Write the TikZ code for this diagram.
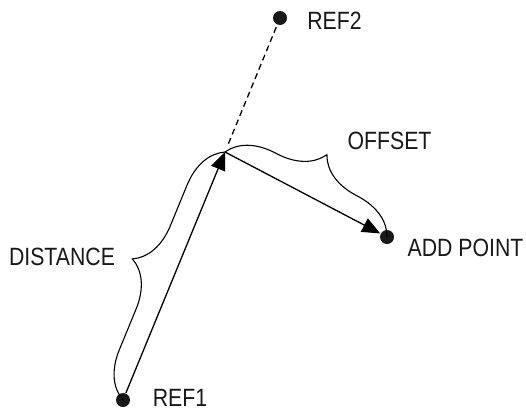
\documentclass[tikz,border=0pt]{standalone}
\usepackage{fontspec}
\setmainfont{Liberation Sans}[FakeStretch=0.85]
\usetikzlibrary{arrows.meta, decorations.pathreplacing}

\begin{document}
\begin{tikzpicture}[x=1pt, y=-1pt, line width=1.3pt, >={Triangle[length=18pt, width=15pt]},
  dot/.style={circle, fill=black!90, inner sep=0pt, minimum size=14pt},
  lbl/.style={font=\fontsize{25}{30}\selectfont, text=black!90, inner sep=0pt},
  brc/.style={decorate, decoration={brace, amplitude=45pt}, line width=1.1pt}]

\useasboundingbox (0,0) rectangle (526,412);

% Reference points
\node[dot] (ref1) at (123,400) {};
\node[dot] (ref2) at (280,18) {};
\node[dot] (add) at (387,237) {};
\coordinate (base) at (225,152);

% Dashed extension towards REF2
\draw[dash pattern=on 6pt off 4pt, shorten <=9pt] (base) -- (ref2);

% Distance and offset arrows
\draw[->] (ref1) -- (base);
\draw[->] (base) -- (add);

% Braces
\draw[brc] (ref1.center) -- (base);
\draw[brc] (base) -- (add.center);

% Labels
\node[lbl] (distlbl) at (62,257) {DISTANCE};
\node[lbl] (offlbl) at (389.5,141) {OFFSET};
\node[lbl] (addlbl) at (465.5,247.5) {ADD POINT};
\node[lbl] (ref1lbl) at (180,398) {REF1};
\node[lbl] (ref2lbl) at (334.5,21) {REF2};

\end{tikzpicture}
\end{document}
